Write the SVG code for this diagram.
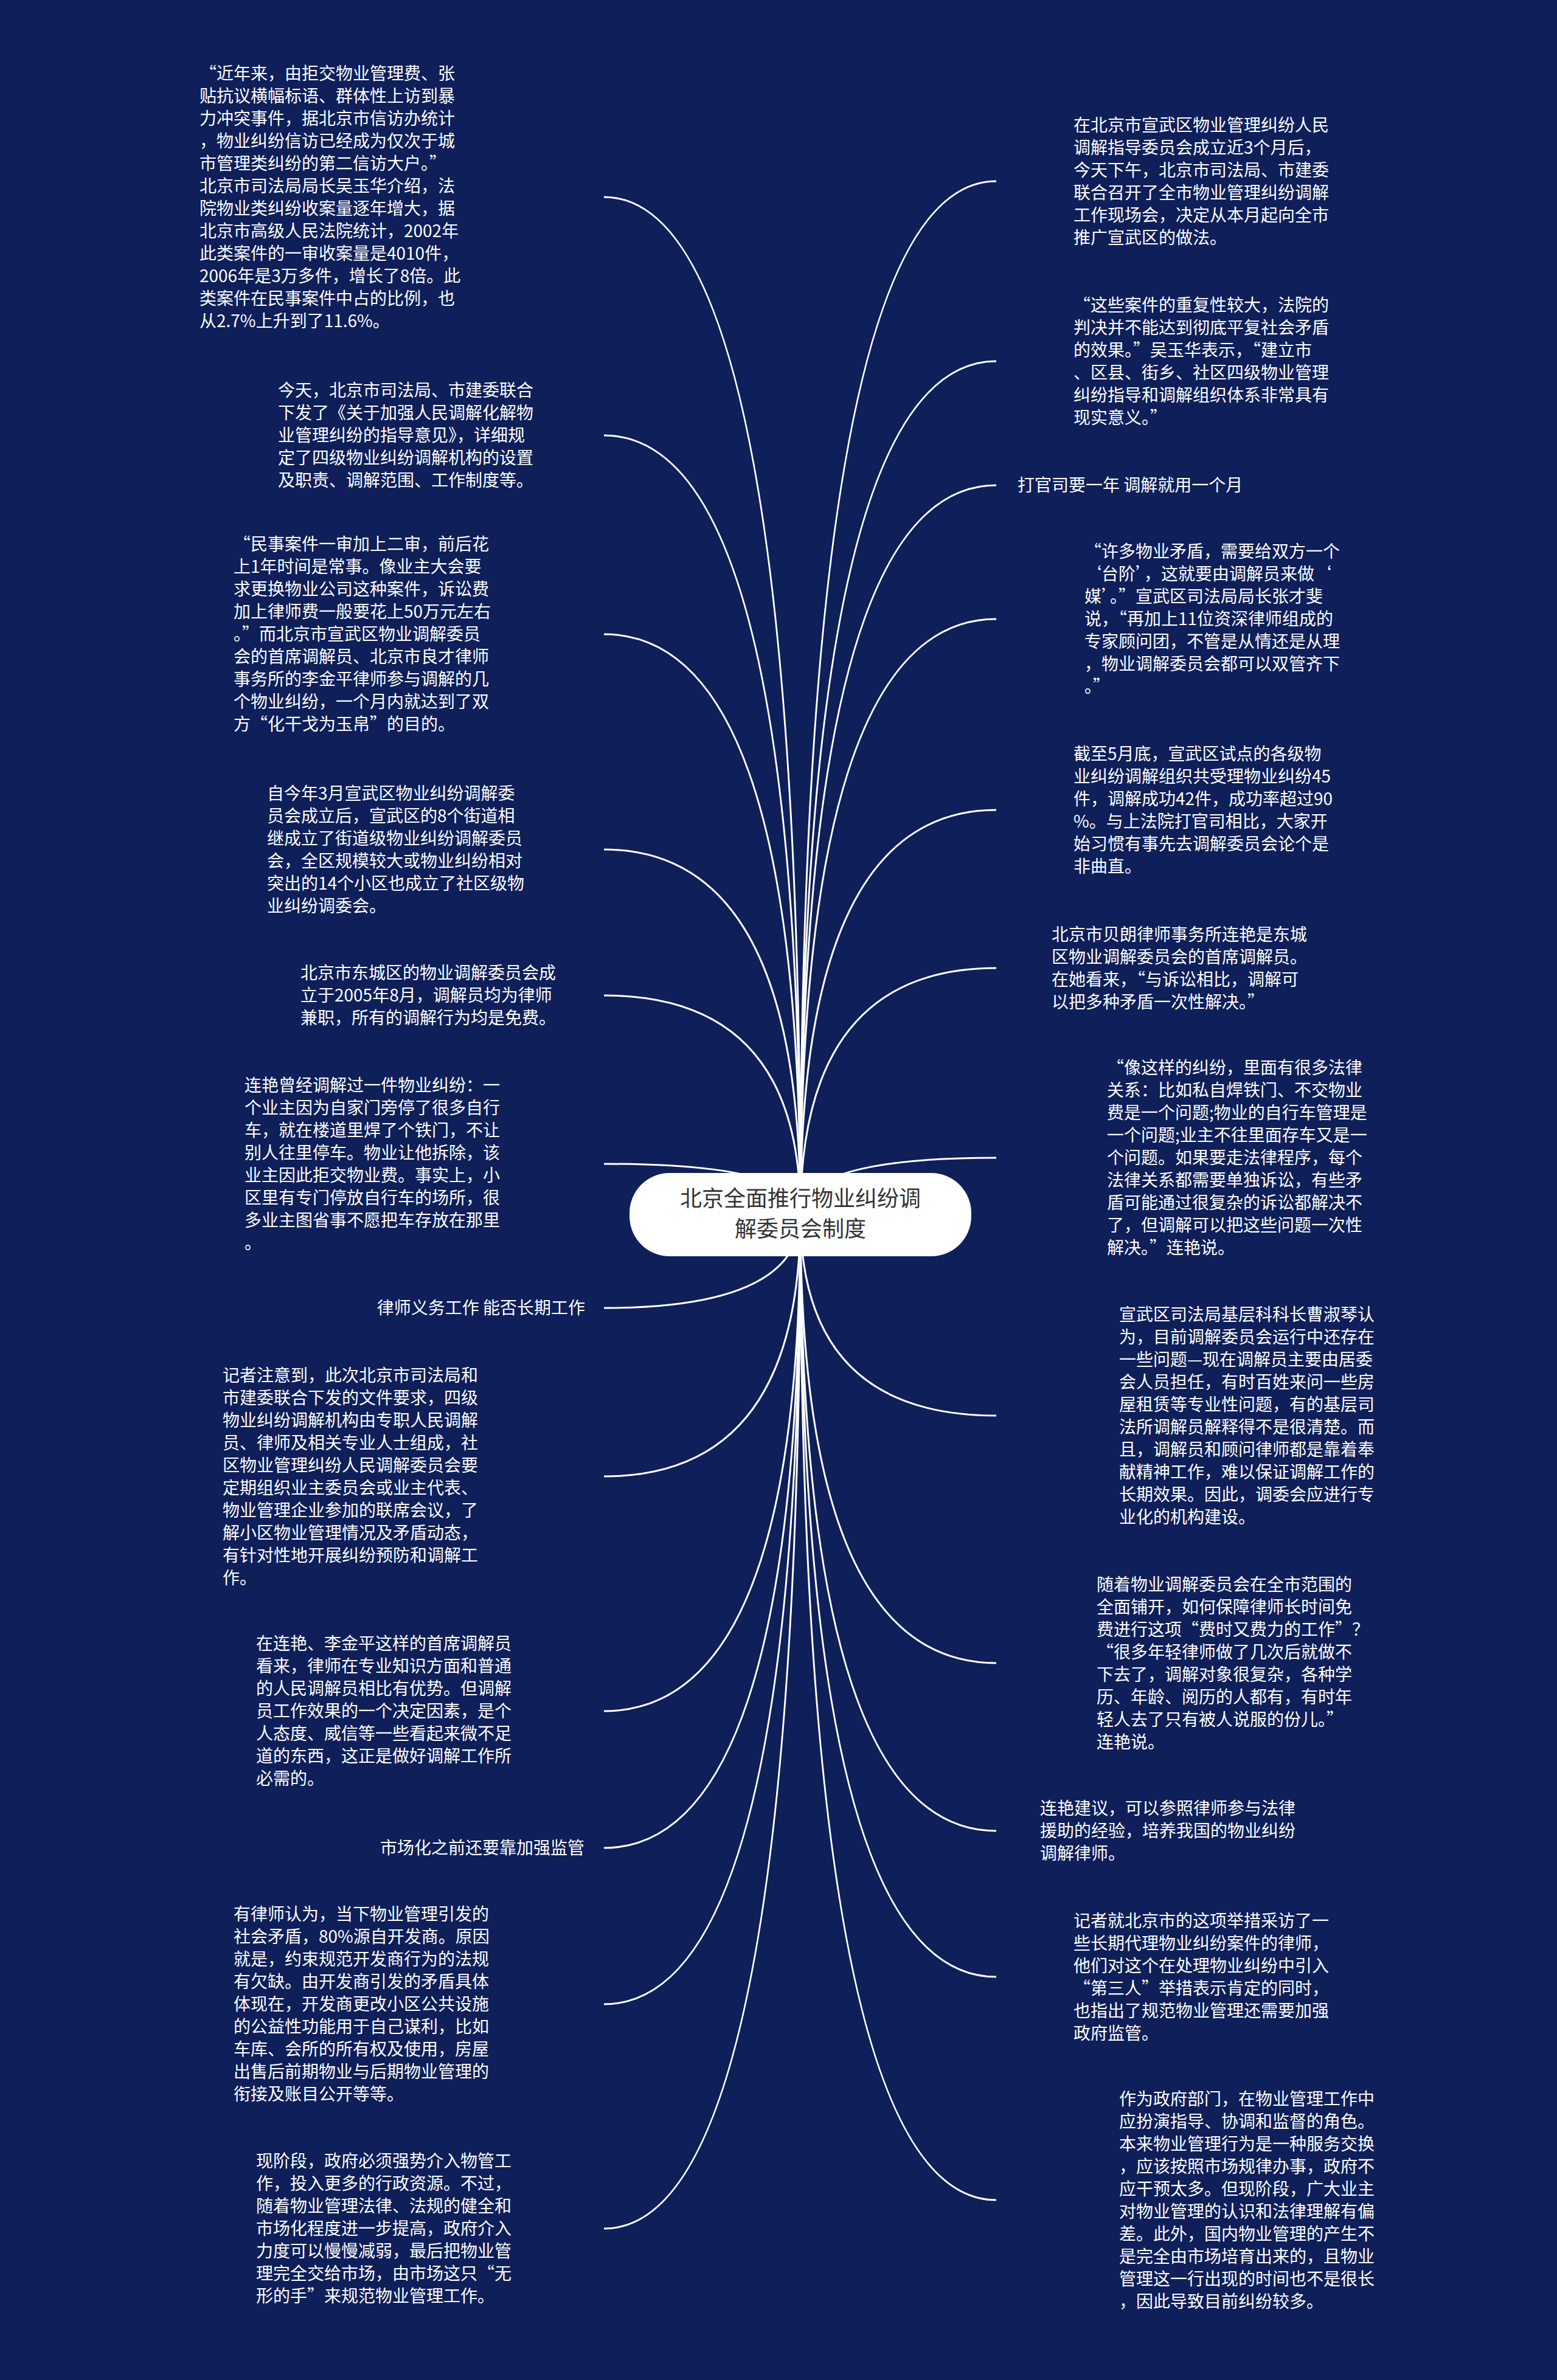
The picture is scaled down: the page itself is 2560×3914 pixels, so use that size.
<svg xmlns="http://www.w3.org/2000/svg" width="2560" height="3914" viewBox="0 0 2560 3914">
<style>
.bg{fill:#0e1f5a}
.t{font-family:"Noto Sans CJK SC","Liberation Sans",sans-serif;font-size:28px;fill:#ffffff}
.lbl{font-family:"Noto Sans CJK SC","Liberation Sans",sans-serif;font-size:28px;fill:#ffffff}
.c{fill:none;stroke:#ffffff;stroke-width:3}
.root{fill:#ffffff}
.rt{font-family:"Noto Sans CJK SC","Liberation Sans",sans-serif;font-size:36px;fill:#333333;text-anchor:middle}
</style>
<rect class="bg" x="0" y="0" width="2560" height="3914"/>
<g id="connectors">
<path class="c" d="M1316 1997 Q1316 324 993 324"/>
<path class="c" d="M1316 1997 Q1316 716 993 716"/>
<path class="c" d="M1316 1997 Q1316 1043 993 1043"/>
<path class="c" d="M1316 1997 Q1316 1397 993 1397"/>
<path class="c" d="M1316 1997 Q1316 1637 993 1637"/>
<path class="c" d="M1316 1997 Q1316 1914 993 1914"/>
<path class="c" d="M1316 1997 Q1316 2151 993 2151"/>
<path class="c" d="M1316 1997 Q1316 2428 993 2428"/>
<path class="c" d="M1316 1997 Q1316 2814 993 2814"/>
<path class="c" d="M1316 1997 Q1316 3039 993 3039"/>
<path class="c" d="M1316 1997 Q1316 3296 993 3296"/>
<path class="c" d="M1316 1997 Q1316 3665 993 3665"/>
<path class="c" d="M1316 1997 Q1316 298 1638 298"/>
<path class="c" d="M1316 1997 Q1316 594 1638 594"/>
<path class="c" d="M1316 1997 Q1316 798 1638 798"/>
<path class="c" d="M1316 1997 Q1316 1018 1638 1018"/>
<path class="c" d="M1316 1997 Q1316 1332 1638 1332"/>
<path class="c" d="M1316 1997 Q1316 1592 1638 1592"/>
<path class="c" d="M1316 1997 Q1316 1904 1638 1904"/>
<path class="c" d="M1316 1997 Q1316 2328 1638 2328"/>
<path class="c" d="M1316 1997 Q1316 2735 1638 2735"/>
<path class="c" d="M1316 1997 Q1316 3011 1638 3011"/>
<path class="c" d="M1316 1997 Q1316 3251 1638 3251"/>
<path class="c" d="M1316 1997 Q1316 3618 1638 3618"/>
</g>
<g id="root">
<rect class="root" x="1035" y="1929" width="562" height="137" rx="66" ry="66"/>
<text class="rt" x="1316" y="1984">北京全面推行物业纠纷调</text>
<text class="rt" x="1316" y="2034">解委员会制度</text>
</g>
<g id="L1"><text class="t" x="328" y="131"><tspan x="328">“近年来，由拒交物业管理费、张</tspan><tspan x="328" dy="37">贴抗议横幅标语、群体性上访到暴</tspan><tspan x="328" dy="37">力冲突事件，据北京市信访办统计</tspan><tspan x="328" dy="37">，物业纠纷信访已经成为仅次于城</tspan><tspan x="328" dy="37">市管理类纠纷的第二信访大户。”</tspan><tspan x="328" dy="37">北京市司法局局长吴玉华介绍，法</tspan><tspan x="328" dy="37">院物业类纠纷收案量逐年增大，据</tspan><tspan x="328" dy="37">北京市高级人民法院统计，2002年</tspan><tspan x="328" dy="37">此类案件的一审收案量是4010件，</tspan><tspan x="328" dy="37">2006年是3万多件，增长了8倍。此</tspan><tspan x="328" dy="37">类案件在民事案件中占的比例，也</tspan><tspan x="328" dy="37">从2.7%上升到了11.6%。</tspan></text></g>
<g id="L2"><text class="t" x="457" y="652"><tspan x="457">今天，北京市司法局、市建委联合</tspan><tspan x="457" dy="37">下发了《关于加强人民调解化解物</tspan><tspan x="457" dy="37">业管理纠纷的指导意见》，详细规</tspan><tspan x="457" dy="37">定了四级物业纠纷调解机构的设置</tspan><tspan x="457" dy="37">及职责、调解范围、工作制度等。</tspan></text></g>
<g id="L3"><text class="t" x="384" y="905"><tspan x="384">“民事案件一审加上二审，前后花</tspan><tspan x="384" dy="37">上1年时间是常事。像业主大会要</tspan><tspan x="384" dy="37">求更换物业公司这种案件，诉讼费</tspan><tspan x="384" dy="37">加上律师费一般要花上50万元左右</tspan><tspan x="384" dy="37">。”而北京市宣武区物业调解委员</tspan><tspan x="384" dy="37">会的首席调解员、北京市良才律师</tspan><tspan x="384" dy="37">事务所的李金平律师参与调解的几</tspan><tspan x="384" dy="37">个物业纠纷，一个月内就达到了双</tspan><tspan x="384" dy="37">方“化干戈为玉帛”的目的。</tspan></text></g>
<g id="L4"><text class="t" x="439" y="1315"><tspan x="439">自今年3月宣武区物业纠纷调解委</tspan><tspan x="439" dy="37">员会成立后，宣武区的8个街道相</tspan><tspan x="439" dy="37">继成立了街道级物业纠纷调解委员</tspan><tspan x="439" dy="37">会，全区规模较大或物业纠纷相对</tspan><tspan x="439" dy="37">突出的14个小区也成立了社区级物</tspan><tspan x="439" dy="37">业纠纷调委会。</tspan></text></g>
<g id="L5"><text class="t" x="494" y="1610"><tspan x="494">北京市东城区的物业调解委员会成</tspan><tspan x="494" dy="37">立于2005年8月，调解员均为律师</tspan><tspan x="494" dy="37">兼职，所有的调解行为均是免费。</tspan></text></g>
<g id="L6"><text class="t" x="402" y="1795"><tspan x="402">连艳曾经调解过一件物业纠纷：一</tspan><tspan x="402" dy="37">个业主因为自家门旁停了很多自行</tspan><tspan x="402" dy="37">车，就在楼道里焊了个铁门，不让</tspan><tspan x="402" dy="37">别人往里停车。物业让他拆除，该</tspan><tspan x="402" dy="37">业主因此拒交物业费。事实上，小</tspan><tspan x="402" dy="37">区里有专门停放自行车的场所，很</tspan><tspan x="402" dy="37">多业主图省事不愿把车存放在那里</tspan><tspan x="402" dy="37">。</tspan></text></g>
<g id="L7"><text class="lbl" x="962" y="2161" text-anchor="end">律师义务工作 能否长期工作</text></g>
<g id="L8"><text class="t" x="366" y="2272"><tspan x="366">记者注意到，此次北京市司法局和</tspan><tspan x="366" dy="37">市建委联合下发的文件要求，四级</tspan><tspan x="366" dy="37">物业纠纷调解机构由专职人民调解</tspan><tspan x="366" dy="37">员、律师及相关专业人士组成，社</tspan><tspan x="366" dy="37">区物业管理纠纷人民调解委员会要</tspan><tspan x="366" dy="37">定期组织业主委员会或业主代表、</tspan><tspan x="366" dy="37">物业管理企业参加的联席会议，了</tspan><tspan x="366" dy="37">解小区物业管理情况及矛盾动态，</tspan><tspan x="366" dy="37">有针对性地开展纠纷预防和调解工</tspan><tspan x="366" dy="37">作。</tspan></text></g>
<g id="L9"><text class="t" x="421" y="2713"><tspan x="421">在连艳、李金平这样的首席调解员</tspan><tspan x="421" dy="37">看来，律师在专业知识方面和普通</tspan><tspan x="421" dy="37">的人民调解员相比有优势。但调解</tspan><tspan x="421" dy="37">员工作效果的一个决定因素，是个</tspan><tspan x="421" dy="37">人态度、威信等一些看起来微不足</tspan><tspan x="421" dy="37">道的东西，这正是做好调解工作所</tspan><tspan x="421" dy="37">必需的。</tspan></text></g>
<g id="L10"><text class="lbl" x="961" y="3049" text-anchor="end">市场化之前还要靠加强监管</text></g>
<g id="L11"><text class="t" x="384" y="3158"><tspan x="384">有律师认为，当下物业管理引发的</tspan><tspan x="384" dy="37">社会矛盾，80%源自开发商。原因</tspan><tspan x="384" dy="37">就是，约束规范开发商行为的法规</tspan><tspan x="384" dy="37">有欠缺。由开发商引发的矛盾具体</tspan><tspan x="384" dy="37">体现在，开发商更改小区公共设施</tspan><tspan x="384" dy="37">的公益性功能用于自己谋利，比如</tspan><tspan x="384" dy="37">车库、会所的所有权及使用，房屋</tspan><tspan x="384" dy="37">出售后前期物业与后期物业管理的</tspan><tspan x="384" dy="37">衔接及账目公开等等。</tspan></text></g>
<g id="L12"><text class="t" x="421" y="3564"><tspan x="421">现阶段，政府必须强势介入物管工</tspan><tspan x="421" dy="37">作，投入更多的行政资源。不过，</tspan><tspan x="421" dy="37">随着物业管理法律、法规的健全和</tspan><tspan x="421" dy="37">市场化程度进一步提高，政府介入</tspan><tspan x="421" dy="37">力度可以慢慢减弱，最后把物业管</tspan><tspan x="421" dy="37">理完全交给市场，由市场这只“无</tspan><tspan x="421" dy="37">形的手”来规范物业管理工作。</tspan></text></g>
<g id="R1"><text class="t" x="1765" y="216"><tspan x="1765">在北京市宣武区物业管理纠纷人民</tspan><tspan x="1765" dy="37">调解指导委员会成立近3个月后，</tspan><tspan x="1765" dy="37">今天下午，北京市司法局、市建委</tspan><tspan x="1765" dy="37">联合召开了全市物业管理纠纷调解</tspan><tspan x="1765" dy="37">工作现场会，决定从本月起向全市</tspan><tspan x="1765" dy="37">推广宣武区的做法。</tspan></text></g>
<g id="R2"><text class="t" x="1765" y="512"><tspan x="1765">“这些案件的重复性较大，法院的</tspan><tspan x="1765" dy="37">判决并不能达到彻底平复社会矛盾</tspan><tspan x="1765" dy="37">的效果。”吴玉华表示，“建立市</tspan><tspan x="1765" dy="37">、区县、街乡、社区四级物业管理</tspan><tspan x="1765" dy="37">纠纷指导和调解组织体系非常具有</tspan><tspan x="1765" dy="37">现实意义。”</tspan></text></g>
<g id="R3"><text class="lbl" x="1673" y="808">打官司要一年 调解就用一个月</text></g>
<g id="R4"><text class="t" x="1783" y="917"><tspan x="1783">“许多物业矛盾，需要给双方一个</tspan><tspan x="1783" dy="37">‘台阶’，这就要由调解员来做‘</tspan><tspan x="1783" dy="37">媒’。”宣武区司法局局长张才斐</tspan><tspan x="1783" dy="37">说，“再加上11位资深律师组成的</tspan><tspan x="1783" dy="37">专家顾问团，不管是从情还是从理</tspan><tspan x="1783" dy="37">，物业调解委员会都可以双管齐下</tspan><tspan x="1783" dy="37">。”</tspan></text></g>
<g id="R5"><text class="t" x="1765" y="1250"><tspan x="1765">截至5月底，宣武区试点的各级物</tspan><tspan x="1765" dy="37">业纠纷调解组织共受理物业纠纷45</tspan><tspan x="1765" dy="37">件，调解成功42件，成功率超过90</tspan><tspan x="1765" dy="37">%。与上法院打官司相比，大家开</tspan><tspan x="1765" dy="37">始习惯有事先去调解委员会论个是</tspan><tspan x="1765" dy="37">非曲直。</tspan></text></g>
<g id="R6"><text class="t" x="1729" y="1547"><tspan x="1729">北京市贝朗律师事务所连艳是东城</tspan><tspan x="1729" dy="37">区物业调解委员会的首席调解员。</tspan><tspan x="1729" dy="37">在她看来，“与诉讼相比，调解可</tspan><tspan x="1729" dy="37">以把多种矛盾一次性解决。”</tspan></text></g>
<g id="R7"><text class="t" x="1820" y="1766"><tspan x="1820">“像这样的纠纷，里面有很多法律</tspan><tspan x="1820" dy="37">关系：比如私自焊铁门、不交物业</tspan><tspan x="1820" dy="37">费是一个问题;物业的自行车管理是</tspan><tspan x="1820" dy="37">一个问题;业主不往里面存车又是一</tspan><tspan x="1820" dy="37">个问题。如果要走法律程序，每个</tspan><tspan x="1820" dy="37">法律关系都需要单独诉讼，有些矛</tspan><tspan x="1820" dy="37">盾可能通过很复杂的诉讼都解决不</tspan><tspan x="1820" dy="37">了，但调解可以把这些问题一次性</tspan><tspan x="1820" dy="37">解决。”连艳说。</tspan></text></g>
<g id="R8"><text class="t" x="1840" y="2172"><tspan x="1840">宣武区司法局基层科科长曹淑琴认</tspan><tspan x="1840" dy="37">为，目前调解委员会运行中还存在</tspan><tspan x="1840" dy="37">一些问题—现在调解员主要由居委</tspan><tspan x="1840" dy="37">会人员担任，有时百姓来问一些房</tspan><tspan x="1840" dy="37">屋租赁等专业性问题，有的基层司</tspan><tspan x="1840" dy="37">法所调解员解释得不是很清楚。而</tspan><tspan x="1840" dy="37">且，调解员和顾问律师都是靠着奉</tspan><tspan x="1840" dy="37">献精神工作，难以保证调解工作的</tspan><tspan x="1840" dy="37">长期效果。因此，调委会应进行专</tspan><tspan x="1840" dy="37">业化的机构建设。</tspan></text></g>
<g id="R9"><text class="t" x="1803" y="2616"><tspan x="1803">随着物业调解委员会在全市范围的</tspan><tspan x="1803" dy="37">全面铺开，如何保障律师长时间免</tspan><tspan x="1803" dy="37">费进行这项“费时又费力的工作”？</tspan><tspan x="1803" dy="37">“很多年轻律师做了几次后就做不</tspan><tspan x="1803" dy="37">下去了，调解对象很复杂，各种学</tspan><tspan x="1803" dy="37">历、年龄、阅历的人都有，有时年</tspan><tspan x="1803" dy="37">轻人去了只有被人说服的份儿。”</tspan><tspan x="1803" dy="37">连艳说。</tspan></text></g>
<g id="R10"><text class="t" x="1710" y="2984"><tspan x="1710">连艳建议，可以参照律师参与法律</tspan><tspan x="1710" dy="37">援助的经验，培养我国的物业纠纷</tspan><tspan x="1710" dy="37">调解律师。</tspan></text></g>
<g id="R11"><text class="t" x="1765" y="3169"><tspan x="1765">记者就北京市的这项举措采访了一</tspan><tspan x="1765" dy="37">些长期代理物业纠纷案件的律师，</tspan><tspan x="1765" dy="37">他们对这个在处理物业纠纷中引入</tspan><tspan x="1765" dy="37">“第三人”举措表示肯定的同时，</tspan><tspan x="1765" dy="37">也指出了规范物业管理还需要加强</tspan><tspan x="1765" dy="37">政府监管。</tspan></text></g>
<g id="R12"><text class="t" x="1840" y="3462"><tspan x="1840">作为政府部门，在物业管理工作中</tspan><tspan x="1840" dy="37">应扮演指导、协调和监督的角色。</tspan><tspan x="1840" dy="37">本来物业管理行为是一种服务交换</tspan><tspan x="1840" dy="37">，应该按照市场规律办事，政府不</tspan><tspan x="1840" dy="37">应干预太多。但现阶段，广大业主</tspan><tspan x="1840" dy="37">对物业管理的认识和法律理解有偏</tspan><tspan x="1840" dy="37">差。此外，国内物业管理的产生不</tspan><tspan x="1840" dy="37">是完全由市场培育出来的，且物业</tspan><tspan x="1840" dy="37">管理这一行出现的时间也不是很长</tspan><tspan x="1840" dy="37">，因此导致目前纠纷较多。</tspan></text></g>
</svg>
